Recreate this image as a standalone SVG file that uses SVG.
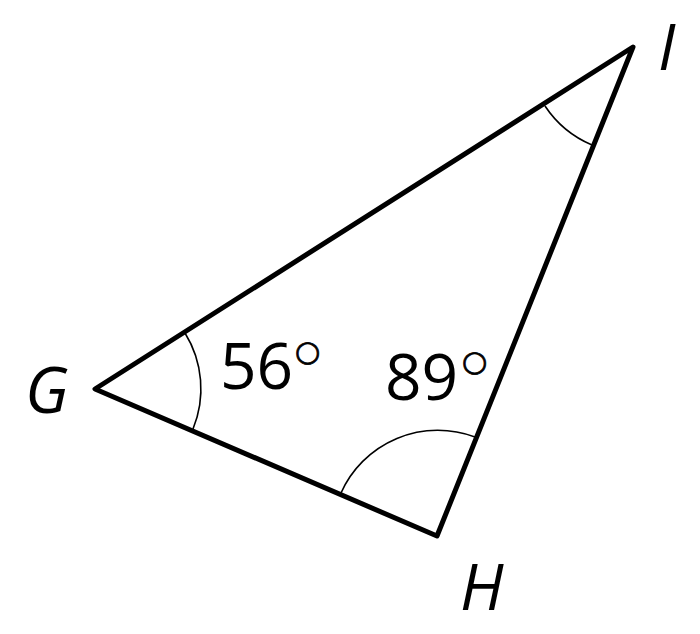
<svg xmlns="http://www.w3.org/2000/svg" width="700" height="634" viewBox="0 0 700 634">
<style>
.side{fill:none;stroke:#000;stroke-width:5;stroke-linejoin:round;stroke-linecap:round}
.arc{fill:none;stroke:#000;stroke-width:1.6}
.lbl{font-family:"Open Sans","Noto Sans",sans-serif;font-size:64px;fill:#000}
.it{font-style:italic}
.deg{font-family:"DejaVu Sans",sans-serif;font-size:29px;font-weight:bold;stroke:#000;stroke-width:0.8}
</style>
<rect width="700" height="634" fill="#fff"/>
<g id="connectors">
<polygon class="side" points="95,389 437,536 633,47"/>
</g>
<g id="arcs">
<path class="arc" d="M185,333 A106,106 0 0 1 193,429"/>
<path class="arc" d="M341,493 A106,106 0 0 1 475,437"/>
<path class="arc" d="M545,106 A106,106 0 0 0 592,145"/>
</g>
<g id="G"><text class="lbl it" x="25" y="413">G</text></g>
<g id="H"><text class="lbl it" x="460" y="610">H</text></g>
<g id="I"><text class="lbl it" x="658" y="70">I</text></g>
<g id="angleG"><text class="lbl" x="220" y="389">56<tspan class="deg" x="295" y="361">○</tspan></text></g>
<g id="angleH"><text class="lbl" x="385" y="400">89<tspan class="deg" x="462" y="371">○</tspan></text></g>
</svg>
